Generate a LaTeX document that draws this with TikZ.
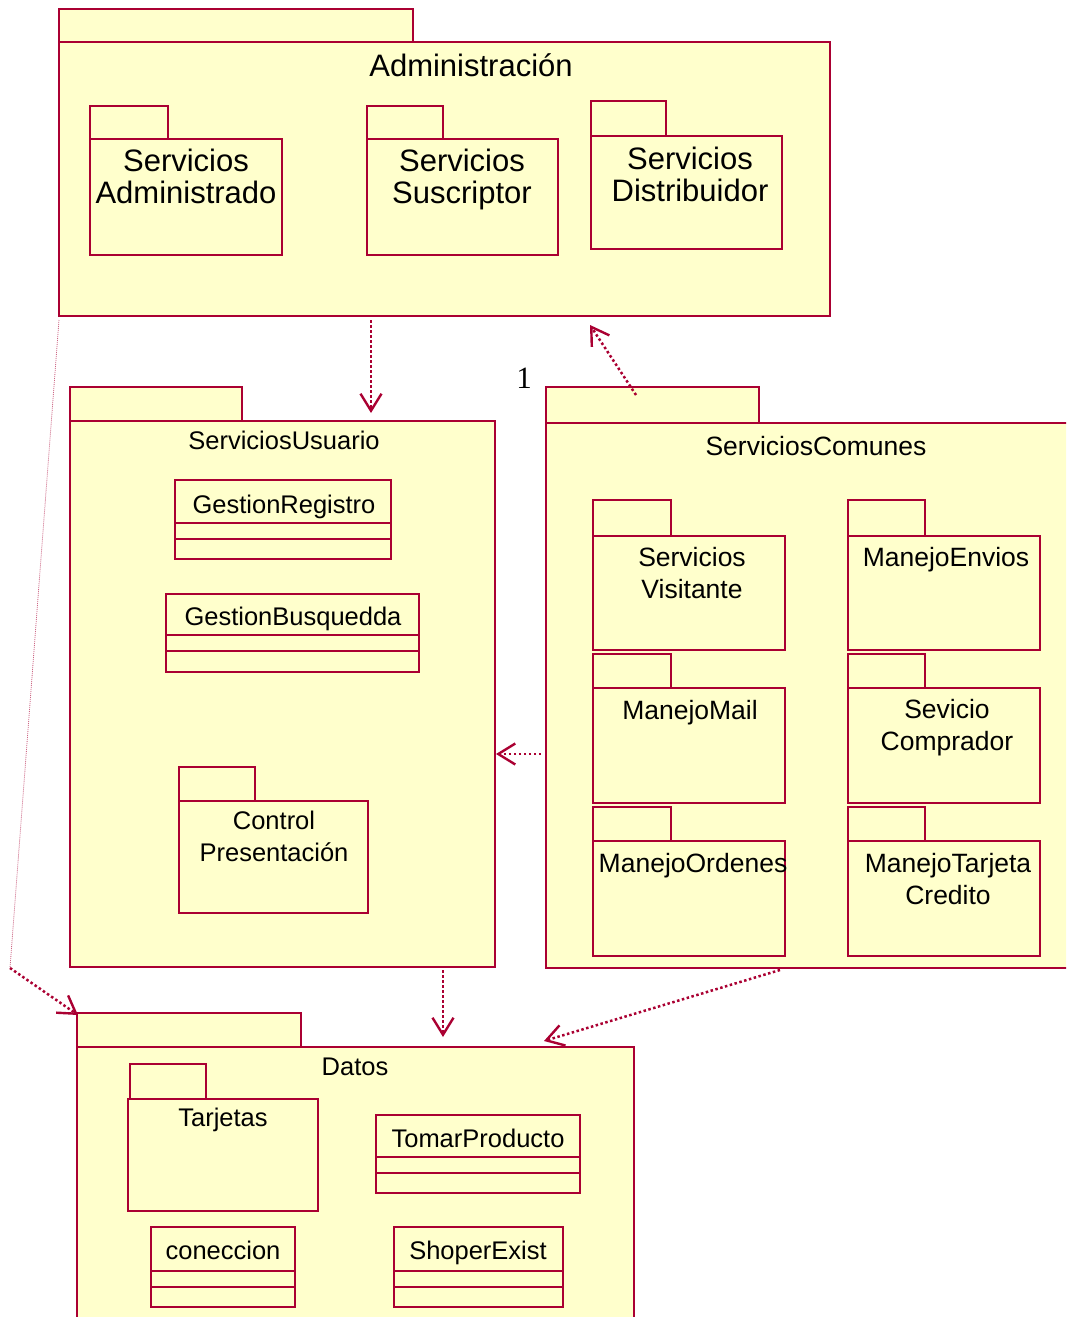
\documentclass[tikz,border=0pt]{standalone}
\usepackage{fontspec}
\setmainfont{Liberation Sans}
\newfontfamily\serifnum{Liberation Serif}
\usepackage{xcolor}
\usetikzlibrary{shapes, positioning, arrows.meta}

\definecolor{rosered}{RGB}{170,0,50}
\definecolor{roseyellow}{RGB}{255,255,204}

\tikzset{
	pkg/.style={draw=rosered, fill=roseyellow, line width=1.3pt},
	divider/.style={draw=rosered, line width=1.2pt},
	bigname/.style={inner sep=0pt, align=center, font=\fontsize{31}{32}\selectfont},
	midname/.style={inner sep=0pt, align=center, font=\fontsize{26.5}{32}\selectfont},
	smallname/.style={inner sep=0pt, align=center, font=\fontsize{25.5}{32}\selectfont},
	dep/.style={draw=rosered, line width=2.5pt, dash pattern=on 2.5pt off 2.5pt, ->},
}

\begin{document}
\begin{tikzpicture}[x=1pt, y=-1pt, > = {Straight Barb[length=17pt, width=21pt, line width=2.4pt]}]
			\useasboundingbox (0,0) rectangle (1066,1317);
			\clip (0,0) rectangle (1066,1317);
			
			%% Administracion
			\draw [pkg] (59,9) rectangle (413,42);
			\draw [pkg] (59,42) rectangle (830,316);
			\node [bigname, anchor=base] (admin) at (471,76.5) {Administración};
			
			\draw [pkg] (90,106) rectangle (168,139);
			\draw [pkg] (90,139) rectangle (282,255);
			\node [bigname, anchor=north] (srvadm) at (186,148.5) {Servicios\\Administrado};
			
			\draw [pkg] (367,106) rectangle (443,139);
			\draw [pkg] (367,139) rectangle (558,255);
			\node [bigname, anchor=north] (srvsus) at (462,148.5) {Servicios\\Suscriptor};
			
			\draw [pkg] (591,101) rectangle (666,136);
			\draw [pkg] (591,136) rectangle (782,249);
			\node [bigname, anchor=north] (srvdis) at (690,146.5) {Servicios\\Distribuidor};
			
			%% ServiciosUsuario
			\draw [pkg] (70,387) rectangle (242,421);
			\draw [pkg] (70,421) rectangle (495,967);
			\node [smallname, anchor=base] (usuario) at (284,449) {ServiciosUsuario};
			
			\draw [pkg] (175,480) rectangle (391,559);
			\draw [divider] (175,523) -- (391,523) (175,539) -- (391,539);
			\node [smallname, anchor=base] (gestreg) at (284,513) {GestionRegistro};
			
			\draw [pkg] (166,594) rectangle (419,672);
			\draw [divider] (166,635) -- (419,635) (166,651) -- (419,651);
			\node [smallname, anchor=base] (gestbus) at (293,625) {GestionBusquedda};
			
			\draw [pkg] (179,767) rectangle (255,801);
			\draw [pkg] (179,801) rectangle (368,913);
			\node [smallname, anchor=north] (ctrlpres) at (274,810.5) {Control\\Presentación};
			
			%% ServiciosComunes
			\draw [pkg] (546,387) rectangle (759,423);
			\draw [pkg] (546,423) rectangle (1080,968);
			\node [midname, anchor=base] (comunes) at (816,455) {ServiciosComunes};
			
			\draw [pkg] (593,500) rectangle (671,536);
			\draw [pkg] (593,536) rectangle (785,650);
			\node [midname, anchor=north] (srvvis) at (692,547) {Servicios\\Visitante};
			
			\draw [pkg] (848,500) rectangle (925,536);
			\draw [pkg] (848,536) rectangle (1040,650);
			\node [midname, anchor=base] (envios) at (946,566.5) {ManejoEnvios};
			
			\draw [pkg] (593,654) rectangle (671,688);
			\draw [pkg] (593,688) rectangle (785,803);
			\node [midname, anchor=base] (mail) at (690,719.5) {ManejoMail};
			
			\draw [pkg] (848,654) rectangle (925,688);
			\draw [pkg] (848,688) rectangle (1040,803);
			\node [midname, anchor=north] (comprador) at (947,699) {Sevicio\\Comprador};
			
			\draw [pkg] (593,807) rectangle (671,841);
			\draw [pkg] (593,841) rectangle (785,956);
			\node [midname, anchor=base] (ordenes) at (693,872.5) {ManejoOrdenes};
			
			\draw [pkg] (848,807) rectangle (925,841);
			\draw [pkg] (848,841) rectangle (1040,956);
			\node [midname, anchor=north] (tarjcred) at (948,853) {ManejoTarjeta\\Credito};
			
			%% Datos
			\draw [pkg] (77,1013) rectangle (301,1047);
			\draw [pkg] (77,1047) rectangle (634,1330);
			\node [smallname, anchor=base] (datos) at (355,1075) {Datos};
			
			\draw [pkg] (130,1064) rectangle (206,1099);
			\draw [pkg] (128,1099) rectangle (318,1211);
			\node [smallname, anchor=base] (tarjetas) at (223,1126) {Tarjetas};
			
			\draw [pkg] (376,1115) rectangle (580,1193);
			\draw [divider] (376,1157) -- (580,1157) (376,1173) -- (580,1173);
			\node [smallname, anchor=base] (tomar) at (478,1147) {TomarProducto};
			
			\draw [pkg] (151,1227) rectangle (295,1307);
			\draw [divider] (151,1271) -- (295,1271) (151,1287) -- (295,1287);
			\node [smallname, anchor=base] (conec) at (223,1259) {coneccion};
			
			\draw [pkg] (394,1227) rectangle (563,1307);
			\draw [divider] (394,1271) -- (563,1271) (394,1287) -- (563,1287);
			\node [smallname, anchor=base] (shoper) at (478,1259) {ShoperExist};
			
			%% Multiplicidad
			\node [font=\serifnum\fontsize{31}{31}\selectfont, inner sep=0pt, anchor=base] (mult) at (524,388) {1};
			
			%% Dependencias
			\coordinate (admout) at (371,320);
			\coordinate (usuin) at (371,413);
			\coordinate (comout) at (636,395);
			\coordinate (admin-in) at (590,325);
			\coordinate (comleft) at (541,754);
			\coordinate (usuright) at (496,754);
			\coordinate (usuout) at (443,970);
			\coordinate (datin) at (443,1037);
			\coordinate (comdown) at (780,970);
			\coordinate (datright) at (544,1041);
			\coordinate (admleft) at (59,320);
			\coordinate (bend) at (10,968);
			\coordinate (datleft) at (78,1015);
			
			\draw [dep] (admout) -- (usuin);
			\draw [dep] (comout) -- (admin-in);
			\draw [dep] (comleft) -- (usuright);
			\draw [dep] (usuout) -- (datin);
			\draw [dep] (comdown) -- (datright);
			\draw [draw=rosered!60, line width=0.8pt, dash pattern=on 1pt off 1pt] (admleft) -- (bend);
			\draw [dep] (bend) -- (datleft);
		\end{tikzpicture}
\end{document}
